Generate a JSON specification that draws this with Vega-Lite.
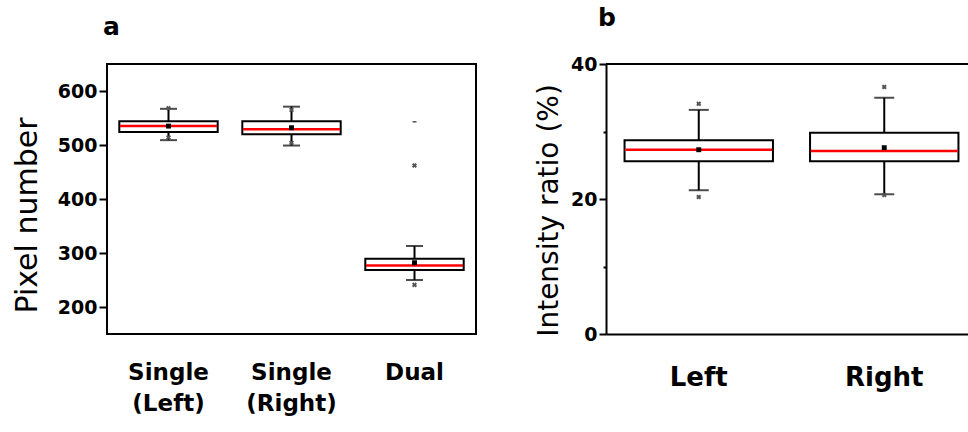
{
  "$schema": "https://vega.github.io/schema/vega-lite/v6.json",
  "padding": {"left": 11, "top": 6, "right": 0, "bottom": 0},
  "spacing": 58,
  "config": {
    "font": "DejaVu Sans",
    "view": {"stroke": "black", "strokeWidth": 2},
    "title": {"fontSize": 25, "fontWeight": "bold", "anchor": "start", "frame": "group", "color": "black", "font": "DejaVu Sans"}
  },
  "datasets": {
    "boxA": [
      {"group": "Single (Left)", "q1": 524, "q3": 544, "median": 535, "mean": 535, "low": 509, "high": 567},
      {"group": "Single (Right)", "q1": 520, "q3": 544, "median": 529, "mean": 532, "low": 499, "high": 571},
      {"group": "Dual", "q1": 268.5, "q3": 289.5, "median": 277, "mean": 282, "low": 250, "high": 313}
    ],
    "marksA": [
      {"group": "Single (Left)", "value": 568, "kind": "x"},
      {"group": "Single (Left)", "value": 514, "kind": "x"},
      {"group": "Single (Right)", "value": 565, "kind": "x"},
      {"group": "Single (Right)", "value": 504, "kind": "x"},
      {"group": "Dual", "value": 543, "kind": "dash"},
      {"group": "Dual", "value": 462, "kind": "x"},
      {"group": "Dual", "value": 241, "kind": "x"}
    ],
    "boxB": [
      {"group": "Left", "q1": 25.6, "q3": 28.7, "median": 27.3, "mean": 27.3, "low": 21.3, "high": 33.2},
      {"group": "Right", "q1": 25.6, "q3": 29.8, "median": 27.1, "mean": 27.6, "low": 20.7, "high": 35.0}
    ],
    "marksB": [
      {"group": "Left", "value": 34.1, "kind": "x"},
      {"group": "Left", "value": 20.3, "kind": "x"},
      {"group": "Right", "value": 36.6, "kind": "x"},
      {"group": "Right", "value": 20.6, "kind": "x"}
    ]
  },
  "hconcat": [
    {
      "width": 369,
      "height": 270,
      "title": {"text": "a", "offset": 24, "dx": -4},
      "encoding": {
        "x": {
          "field": "group", "type": "nominal", "title": null,
          "scale": {"domain": ["Single (Left)", "Single (Right)", "Dual"], "paddingInner": 0, "paddingOuter": 0},
          "axis": {"domain": false, "ticks": false, "labelAngle": 0, "labelPadding": 27, "labelFontSize": 23, "labelFontWeight": "bold", "labelColor": "black", "labelLineHeight": 31, "labelExpr": "split(datum.label, ' ')", "labelBaseline": "top"}
        }
      },
      "layer": [
        {
          "data": {"name": "boxA"},
          "mark": {"type": "rule", "color": "black", "strokeWidth": 2},
          "encoding": {
            "y": {"field": "low", "type": "quantitative", "scale": {"domain": [150, 650], "nice": false, "zero": false},
              "axis": {"values": [200, 250, 300, 350, 400, 450, 500, 550, 600], "labelExpr": "datum.value % 100 === 0 ? datum.label : ''",
                "tickSize": {"condition": {"test": "datum.value % 100 !== 0", "value": 4}, "value": 8},
                "domain": false, "grid": false, "labelFontWeight": "bold", "labelFontSize": 19, "labelColor": "black", "tickColor": "black", "tickWidth": 2, "labelPadding": 2,
                "title": "Pixel number", "titleFontSize": 30, "titleFontWeight": "normal", "titleColor": "black", "titlePadding": 15, "titleY": 151}},
            "y2": {"field": "high"}
          }
        },
        {
          "data": {"name": "boxA"},
          "mark": {"type": "tick", "color": "black", "thickness": 2, "size": 17},
          "encoding": {"y": {"field": "low", "type": "quantitative"}}
        },
        {
          "data": {"name": "boxA"},
          "mark": {"type": "tick", "color": "black", "thickness": 2, "size": 17},
          "encoding": {"y": {"field": "high", "type": "quantitative"}}
        },
        {
          "data": {"name": "boxA"},
          "mark": {"type": "bar", "fill": "white", "stroke": "black", "strokeWidth": 2, "width": {"band": 0.8}},
          "encoding": {"y": {"field": "q1", "type": "quantitative"}, "y2": {"field": "q3"}}
        },
        {
          "data": {"name": "boxA"},
          "mark": {"type": "tick", "color": "#ff0000", "thickness": 2.5, "size": 97, "opacity": 1},
          "encoding": {"y": {"field": "median", "type": "quantitative"}}
        },
        {
          "data": {"name": "boxA"},
          "mark": {"type": "point", "shape": "square", "filled": true, "color": "black", "size": 24, "opacity": 1},
          "encoding": {"y": {"field": "mean", "type": "quantitative"}}
        },
        {
          "data": {"name": "marksA"},
          "transform": [{"filter": "datum.kind === 'x'"}],
          "mark": {"type": "point", "shape": "cross", "angle": 45, "filled": true, "color": "#555", "size": 26, "opacity": 1},
          "encoding": {"y": {"field": "value", "type": "quantitative"}}
        },
        {
          "data": {"name": "marksA"},
          "transform": [{"filter": "datum.kind === 'dash'"}],
          "mark": {"type": "point", "shape": "stroke", "filled": false, "color": "#555", "size": 16, "strokeWidth": 1.5, "opacity": 1},
          "encoding": {"y": {"field": "value", "type": "quantitative"}}
        }
      ]
    },
    {
      "width": 363,
      "height": 270,
      "view": {"stroke": null},
      "title": {"text": "b", "offset": 24, "dx": -8},
      "layer": [
        {
          "data": {"values": [{}]},
          "mark": {"type": "rule", "color": "black", "strokeWidth": 2},
          "encoding": {"y": {"datum": 40, "type": "quantitative"}}
        },
        {
          "data": {"name": "boxB"},
          "mark": {"type": "rule", "color": "black", "strokeWidth": 2},
          "encoding": {
            "x": {
              "field": "group", "type": "nominal", "title": null,
              "scale": {"domain": ["Left", "Right"], "range": [0, 371], "paddingInner": 0, "paddingOuter": 0},
              "axis": {"domain": true, "domainColor": "black", "domainWidth": 2, "ticks": false, "labelAngle": 0, "labelPadding": 30, "labelFontSize": 26, "labelFontWeight": "bold", "labelColor": "black", "labelBaseline": "top"}
            },
            "y": {"field": "low", "type": "quantitative", "scale": {"domain": [0, 40], "nice": false},
              "axis": {"values": [0, 10, 20, 30, 40], "labelExpr": "datum.value % 20 === 0 ? datum.label : ''",
                "tickSize": {"condition": {"test": "datum.value % 20 !== 0", "value": 3}, "value": 7},
                "domain": true, "domainColor": "black", "domainWidth": 2, "grid": false, "labelFontWeight": "bold", "labelFontSize": 19, "labelColor": "black", "tickColor": "black", "tickWidth": 2, "labelPadding": 2,
                "title": "Intensity ratio (%)", "titleFontSize": 28, "titleFontWeight": "normal", "titleColor": "black", "titlePadding": 7, "titleY": 146}},
            "y2": {"field": "high"}
          }
        },
        {
          "data": {"name": "boxB"},
          "mark": {"type": "tick", "color": "black", "thickness": 2, "size": 20},
          "encoding": {"x": {"field": "group", "type": "nominal"}, "y": {"field": "low", "type": "quantitative"}}
        },
        {
          "data": {"name": "boxB"},
          "mark": {"type": "tick", "color": "black", "thickness": 2, "size": 20},
          "encoding": {"x": {"field": "group", "type": "nominal"}, "y": {"field": "high", "type": "quantitative"}}
        },
        {
          "data": {"name": "boxB"},
          "mark": {"type": "bar", "fill": "white", "stroke": "black", "strokeWidth": 2, "width": {"band": 0.8}},
          "encoding": {"x": {"field": "group", "type": "nominal"}, "y": {"field": "q1", "type": "quantitative"}, "y2": {"field": "q3"}}
        },
        {
          "data": {"name": "boxB"},
          "mark": {"type": "tick", "color": "#ff0000", "thickness": 2.5, "size": 147, "opacity": 1},
          "encoding": {"x": {"field": "group", "type": "nominal"}, "y": {"field": "median", "type": "quantitative"}}
        },
        {
          "data": {"name": "boxB"},
          "mark": {"type": "point", "shape": "square", "filled": true, "color": "black", "size": 24, "opacity": 1},
          "encoding": {"x": {"field": "group", "type": "nominal"}, "y": {"field": "mean", "type": "quantitative"}}
        },
        {
          "data": {"name": "marksB"},
          "mark": {"type": "point", "shape": "cross", "angle": 45, "filled": true, "color": "#555", "size": 26, "opacity": 1},
          "encoding": {"x": {"field": "group", "type": "nominal"}, "y": {"field": "value", "type": "quantitative"}}
        }
      ]
    }
  ]
}
